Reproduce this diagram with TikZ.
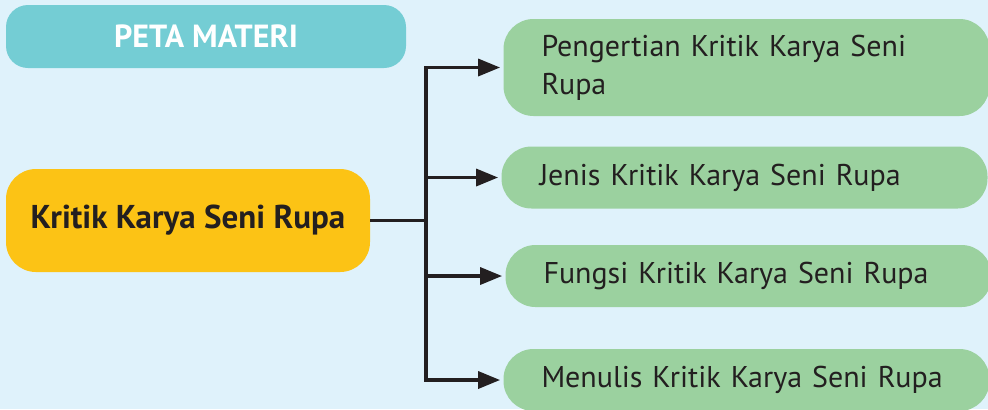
\documentclass[tikz,border=0pt]{standalone}
\usepackage{fontspec}
\setmainfont{PT Sans}
\usepackage{tikz}
\usetikzlibrary{arrows.meta}
\definecolor{pm_bg}{RGB}{223, 242, 251}
\definecolor{pm_teal}{RGB}{116, 205, 212}
\definecolor{pm_yellow}{RGB}{252, 195, 21}
\definecolor{pm_green}{RGB}{155, 209, 159}
\definecolor{pm_ink}{RGB}{35, 31, 32}
\tikzstyle{tn}=[rectangle,rounded corners=11pt,fill=pm_teal,text=white,
  font=\fontsize{16}{19}\selectfont\bfseries,minimum width=200pt,minimum height=31.5pt]
\tikzstyle{yn}=[rectangle,rounded corners=15pt,fill=pm_yellow,text=pm_ink,
  font=\fontsize{16.5}{19}\selectfont\bfseries,minimum width=182pt,minimum height=51.5pt]
\tikzstyle{gn}=[rectangle,rounded corners=15pt,fill=pm_green,text=pm_ink,
  font=\fontsize{15}{19}\selectfont,inner xsep=19pt,text width=205pt,align=left,
  minimum height=31pt]
\tikzstyle{ln}=[draw=pm_ink,line width=1.7pt]
\tikzstyle{none}=[]

\begin{document}
\begin{tikzpicture}[x=0.5pt,y=-0.5pt,>={Triangle[length=11pt,width=8.5pt]}]
            \fill [pm_bg] (0, 0) rectangle (988, 409);
            \useasboundingbox (0, 0) rectangle (988, 409);
            \node [style=tn] (0) at (206, 36.5) {PETA MATERI};
            \node [style=yn] (1) at (188, 220.5) {Kritik Karya Seni Rupa};
            \node [style=gn, minimum height=48.5pt] (2) at (746.5, 67.5) {Pengertian Kritik Karya Seni\\Rupa};
            \node [style=gn] (3) at (744.5, 177.5) {Jenis Kritik Karya Seni Rupa};
            \node [style=gn] (4) at (748.5, 276) {Fungsi Kritik Karya Seni Rupa};
            \node [style=gn] (5) at (746.5, 380) {Menulis Kritik Karya Seni Rupa};
            \coordinate (6) at (426, 220.5);
            \draw [style=ln] (1) to (6);
            \draw [style=ln, ->, shorten >=1.5pt] (6) |- (2);
            \draw [style=ln, ->, shorten >=1.5pt] (6) |- (3);
            \draw [style=ln, ->, shorten >=1.5pt] (6) |- (4);
            \draw [style=ln, ->, shorten >=1.5pt] (6) |- (5);
    \end{tikzpicture}
\end{document}
